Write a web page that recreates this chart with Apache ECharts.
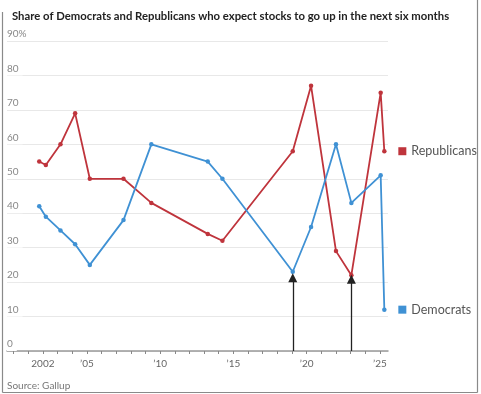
<!DOCTYPE html>
<html><head><meta charset="utf-8">
<script src="https://cdn.jsdelivr.net/npm/echarts@6/dist/echarts.min.js"></script>
<style>html,body{margin:0;padding:0;background:#fff}#c{width:481px;height:394px}</style>
</head><body><div id="c"></div>
<script>
const years = [2001.75, 2002.2, 2003.2, 2004.2, 2005.2, 2007.5, 2009.4, 2013.25, 2014.25, 2019.05, 2020.3, 2022.0, 2023.05, 2025.05, 2025.3];
const republicans = [55, 54, 60, 69, 50, 50, 43, 34, 32, 58, 77, 29, 22, 75, 58];
const democrats = [42, 39, 35, 31, 25, 38, 60, 55, 50, 23, 36, 60, 43, 51, 12];
const tickYears = [2000,2001,2002,2003,2004,2005,2006,2007,2008,2009,2010,2011,2012,2013,2014,2015,2016,2017,2018,2019,2020,2021,2022,2023,2024,2025];
const labelYears = [2002, 2005, 2010, 2015, 2020, 2025];
const arrows = [[2019.05, 21.3], [2023.05, 20.8]];
const title = 'Share of Democrats and Republicans who expect stocks to go up in the next six months';
const source = 'Source: Gallup';
const RED = '#bf343c', BLUE = '#3f91d4';
const FONT = 'Lato';

const chart = echarts.init(document.getElementById('c'), null, {renderer:'canvas'});
function pts(v){ return years.map((y,i)=>[y, v[i]]); }
function endLabel(color, name){
  return {show:true, distance:14, formatter:'{sq|}{t|'+name+'}',
    rich:{sq:{width:8,height:8,backgroundColor:color}, t:{fontFamily:FONT,fontSize:12.5,color:'#555',padding:[0,0,0,5]}}};
}
const border = {stroke:'#8a8a8a', lineWidth:1.2};
chart.setOption({
  animation:false,
  grid:{left:7, right:93, top:41, bottom:43},
  title:{text:title, left:7, top:6, textStyle:{fontFamily:FONT, fontWeight:'bold', fontSize:11.3, color:'#222'}},
  graphic:[
    {type:'text', left:7, top:381, style:{text:source, fontFamily:FONT, fontSize:10, fill:'#777'}},
    {type:'line', shape:{x1:2.5,y1:12,x2:2.5,y2:392.5}, style:border, z:100},
    {type:'line', shape:{x1:2.5,y1:392.5,x2:477.5,y2:392.5}, style:border, z:100},
    {type:'line', shape:{x1:477.5,y1:0,x2:477.5,y2:392.5}, style:border, z:100}
  ],
  xAxis:{type:'value', min:1999.55, max:2025.55,
    axisLine:{show:true, lineStyle:{color:'#999', width:1.5}},
    axisTick:{show:true, customValues:tickYears, length:3, lineStyle:{color:'#888'}},
    axisLabel:{customValues:labelYears, fontFamily:FONT, fontSize:10, color:'#666', margin:8,
      formatter:v=> v===2002 ? '2002' : '\u2019'+String(v).slice(2)},
    splitLine:{show:false}},
  yAxis:{type:'value', min:0, max:90, interval:10,
    axisLine:{show:false}, axisTick:{show:false},
    axisLabel:{inside:true, fontFamily:FONT, fontSize:10, color:'#888', verticalAlign:'bottom',
      backgroundColor:'#fff', padding:[0,4,2,0], margin:0,
      formatter:v=> v===90 ? '90%' : String(v)},
    splitLine:{lineStyle:{color:'#e8e8e8', width:1}}},
  series:[
    {name:'Republicans', type:'line', data:pts(republicans), color:RED,
      symbol:'circle', symbolSize:4.5, lineStyle:{width:1.8}, endLabel:endLabel(RED,'Republicans'), z:3},
    {name:'Democrats', type:'line', data:pts(democrats), color:BLUE,
      symbol:'circle', symbolSize:4.5, lineStyle:{width:1.8}, endLabel:endLabel(BLUE,'Democrats'), z:3,
      markLine:{silent:true, symbol:['none','triangle'], symbolSize:[9,9], label:{show:false},
        lineStyle:{color:'#222', width:1.3, type:'solid'}, itemStyle:{color:'#222'},
        data: arrows.map(a=>[{coord:[a[0],0]},{coord:[a[0],a[1]]}])}}
  ]
});
</script></body></html>
